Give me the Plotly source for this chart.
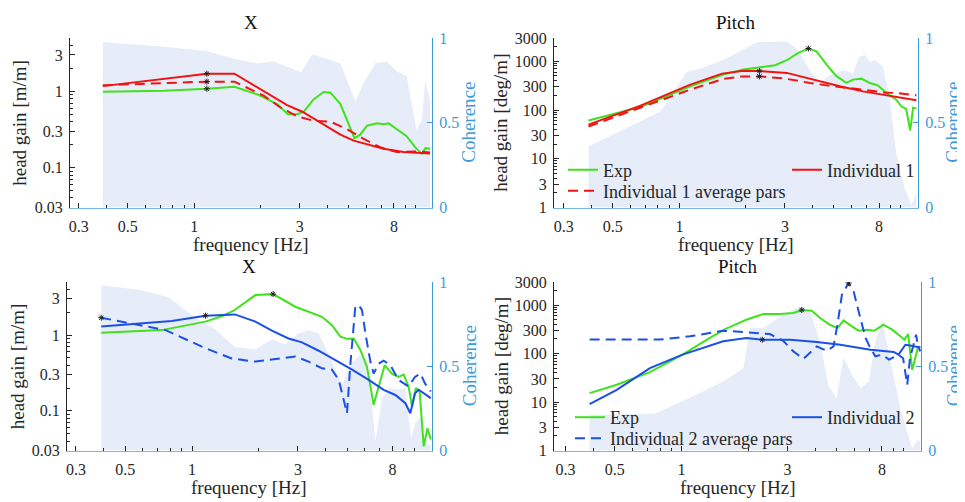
import math
import plotly.graph_objects as go

# ---------------- data (frequency in Hz) ----------------
# Top-left: X, Individual 1
tl_exp_f = [0.386, 0.733, 1.14, 1.52, 1.93, 2.37, 2.65, 2.92, 3.13, 3.47, 3.85, 4.13, 4.58, 4.9, 5.3, 5.63, 6.04, 6.70, 7.18, 7.56, 8.24, 8.83, 9.1, 10.1, 10.7, 11.1, 11.65]
tl_exp_v = [0.99, 1.02, 1.08, 1.15, 0.91, 0.68, 0.50, 0.50, 0.54, 0.79, 0.98, 0.96, 0.68, 0.43, 0.243, 0.27, 0.354, 0.38, 0.37, 0.38, 0.32, 0.277, 0.26, 0.177, 0.152, 0.18, 0.177]
tl_ind_f = [0.386, 1.14, 1.52, 2.07, 2.63, 3.08, 3.59, 4.13, 4.58, 5.26, 6.25, 7.18, 8.83, 11.65]
tl_ind_v = [1.17, 1.70, 1.70, 1.0, 0.66, 0.54, 0.41, 0.32, 0.27, 0.226, 0.198, 0.177, 0.16, 0.153]
tl_avg_f = [0.386, 1.14, 1.52, 2.07, 2.46, 2.92, 3.47, 4.13, 4.9, 5.83, 6.93, 8.24, 10.1, 11.65]
tl_avg_v = [1.2, 1.34, 1.34, 0.87, 0.61, 0.47, 0.41, 0.40, 0.32, 0.238, 0.185, 0.16, 0.163, 0.158]
tl_coh_f = [0.386, 0.733, 1.148, 1.514, 1.93, 2.29, 2.59, 3.04, 3.41, 3.85, 4.58, 5.35, 5.83, 6.58, 7.43, 8.24, 9.14, 10.1, 10.7, 11.06, 11.65]
tl_coh_v = [0.977, 0.948, 0.922, 0.877, 0.849, 0.863, 0.833, 0.798, 0.902, 0.883, 0.849, 0.626, 0.735, 0.853, 0.861, 0.804, 0.774, 0.459, 0.518, 0.745, 0.636]
tl_mark_f = [1.14, 1.14, 1.14]
tl_mark_v = [1.70, 1.34, 1.08]

# Top-right: Pitch, Individual 1
tr_exp_f = [0.388, 0.667, 1.12, 1.58, 1.95, 2.40, 2.71, 3.06, 3.45, 3.83, 4.17, 4.63, 5.13, 5.69, 6.1, 6.65, 7.26, 7.9, 8.62, 9.56, 10.07, 10.6, 11.06, 11.4, 11.8]
tr_exp_v = [61, 115, 306, 532, 675, 753, 828, 1050, 1490, 1825, 1600, 855, 494, 359, 420, 440, 359, 321, 224, 163, 119, 105, 38, 112, 108]
tr_ind_f = [0.388, 0.667, 1.12, 1.56, 1.95, 2.30, 3.06, 3.89, 5.31, 6.76, 8.92, 11.8]
tr_ind_v = [50, 123, 331, 558, 635, 630, 577, 434, 306, 241, 197, 158]
tr_avg_f = [0.388, 0.667, 1.12, 1.58, 1.91, 2.30, 2.95, 3.89, 4.95, 6.76, 8.32, 9.56, 11.8]
tr_avg_v = [46, 110, 262, 434, 484, 490, 447, 359, 306, 262, 230, 223, 200]
tr_coh_f = [0.388, 0.82, 1.08, 1.24, 1.51, 1.81, 2.24, 3.06, 3.38, 3.89, 4.31, 4.78, 5.5, 6.1, 6.5, 6.9, 7.26, 7.7, 8.32, 8.92, 9.56, 10.4, 11.2, 11.8]
tr_coh_v = [0.36, 0.567, 0.80, 0.82, 0.86, 0.91, 0.975, 0.98, 0.94, 0.81, 0.735, 0.78, 0.81, 0.79, 0.89, 0.90, 0.86, 0.87, 0.83, 0.655, 0.32, 0.12, 0.015, 0.084]
tr_mark_f = [2.30, 2.30, 3.83]
tr_mark_v = [630, 490, 1825]

# Bottom-left: X, Individual 2
bl_exp_f = [0.39, 0.73, 1.15, 1.37, 1.54, 1.93, 2.32, 2.92, 3.85, 4.27, 4.66, 4.99, 5.35, 5.73, 6.14, 6.58, 6.93, 7.38, 7.95, 8.51, 8.98, 9.45, 9.8, 10.2, 10.6, 11.06, 11.5, 11.9]
bl_exp_v = [1.07, 1.16, 1.50, 1.78, 2.09, 3.36, 3.46, 2.36, 1.74, 1.35, 0.95, 0.89, 0.90, 0.635, 0.38, 0.12, 0.21, 0.40, 0.31, 0.28, 0.30, 0.21, 0.114, 0.2, 0.18, 0.034, 0.059, 0.042]
bl_ind_f = [0.39, 0.81, 1.15, 1.56, 1.93, 2.29, 2.72, 3.13, 3.72, 4.42, 5.26, 6.25, 7.3, 8.24, 9.14, 9.62, 10.1, 10.5, 11.9]
bl_ind_v = [1.29, 1.53, 1.80, 1.87, 1.50, 1.14, 0.90, 0.80, 0.62, 0.47, 0.35, 0.256, 0.189, 0.162, 0.126, 0.093, 0.17, 0.19, 0.147]
bl_avg_f = [0.39, 0.575, 0.76, 1.15, 1.51, 1.93, 2.37, 2.92, 3.35, 3.85, 4.27, 4.58, 4.82, 4.99, 5.17, 5.44, 5.63, 5.83, 6.04, 6.36, 6.58, 6.93, 7.3, 7.82, 8.51, 9.45, 10.1, 10.7, 11.2, 11.9]
bl_avg_v = [1.69, 1.35, 1.16, 0.67, 0.49, 0.446, 0.48, 0.52, 0.446, 0.364, 0.35, 0.256, 0.14, 0.093, 0.42, 2.36, 2.48, 2.13, 1.05, 0.446, 0.31, 0.42, 0.46, 0.40, 0.256, 0.21, 0.28, 0.31, 0.23, 0.18]
bl_coh_f = [0.39, 0.575, 0.785, 1.03, 1.27, 1.56, 1.93, 2.29, 2.63, 3.0, 3.35, 3.72, 4.13, 4.74, 5.26, 5.73, 6.25, 6.7, 7.18, 7.82, 8.51, 9.14, 9.7, 10.1, 10.7, 11.06, 11.9]
bl_coh_v = [0.98, 0.954, 0.91, 0.79, 0.72, 0.614, 0.6, 0.66, 0.63, 0.694, 0.714, 0.694, 0.57, 0.39, 0.52, 0.57, 0.47, 0.05, 0.31, 0.37, 0.36, 0.37, 0.07, 0.16, 0.2, 0.05, 0.03]
bl_mark_f = [0.39, 1.15, 2.32]
bl_mark_v = [1.69, 1.80, 3.46]

# Bottom-right: Pitch, Individual 2
br_exp_f = [0.385, 0.51, 0.72, 1.01, 1.34, 1.59, 1.96, 2.33, 2.78, 3.19, 3.48, 3.86, 4.21, 4.64, 5.04, 5.37, 5.86, 6.27, 6.85, 7.4, 8.13, 8.89, 9.69, 10.1, 10.5, 10.95, 11.6, 11.9]
br_exp_v = [15.3, 22.7, 41.5, 95, 210, 326, 500, 656, 656, 688, 793, 769, 542, 395, 337, 485, 365, 297, 311, 297, 395, 311, 227, 193, 253, 46, 130, 141]
br_ind_f = [0.385, 0.51, 0.72, 1.01, 1.54, 1.96, 2.31, 3.08, 4.07, 5.19, 7.09, 9.04, 9.5, 10.2, 10.7, 11.9]
br_ind_v = [9.1, 17.9, 50, 95, 179, 210, 193, 193, 173, 152, 120, 108, 95, 152, 147, 134]
br_avg_f = [0.385, 0.8, 1.09, 1.54, 1.90, 2.5, 2.87, 3.19, 3.54, 4.07, 4.52, 4.84, 5.04, 5.28, 5.66, 5.96, 6.39, 6.75, 7.09, 7.47, 8.01, 8.6, 9.5, 9.96, 10.4, 10.7, 11.4, 11.6, 11.9]
br_avg_v = [195, 195, 227, 297, 278, 253, 184, 111, 78, 141, 114, 141, 395, 1645, 2865, 1928, 542, 210, 130, 88, 95, 75, 95, 80, 22.7, 80, 245, 152, 111]
br_coh_f = [0.385, 0.76, 1.12, 1.54, 1.90, 2.03, 2.33, 2.87, 3.41, 3.79, 4.21, 4.58, 4.99, 5.37, 5.86, 6.43, 6.97, 7.47, 8.01, 8.71, 9.69, 10.4, 10.95, 11.6, 11.9]
br_coh_v = [0.21, 0.22, 0.32, 0.41, 0.49, 0.727, 0.727, 0.806, 0.855, 0.826, 0.647, 0.39, 0.31, 0.55, 0.45, 0.37, 0.41, 0.647, 0.776, 0.55, 0.25, 0.11, 0.014, 0.063, 0.05]
br_mark_f = [2.31, 3.48, 5.66]
br_mark_v = [193, 793, 2865]

freq_ticks = [0.3, 0.5, 1, 3, 8]
freq_minor = [0.4, 0.6, 0.7, 0.8, 0.9, 2, 4, 5, 6, 7, 9, 10]
x_gain_ticks = [0.03, 0.1, 0.3, 1, 3]
x_gain_minor = [0.04, 0.05, 0.06, 0.07, 0.08, 0.09, 0.2, 0.4, 0.5, 0.6, 0.7, 0.8, 0.9, 2, 4]
pitch_ticks = [1, 3, 10, 30, 100, 300, 1000, 3000]
pitch_minor = [2, 4, 5, 6, 7, 8, 9, 20, 40, 50, 60, 70, 80, 90, 200, 400, 500, 600, 700, 800, 900, 2000]
coh_ticks = [0, 0.5, 1]

# ---------------- style ----------------
OFF = 8                      # page body margin of the browser
W, H = 965 - OFF, 502 - OFF  # figure fills the rest of the window
FONT = "Liberation Serif, 'Times New Roman', Times, serif"
GREEN = "#3fe21c"
RED = "#f21212"
BLUE = "#1c4fe8"
FILL = "#e6edf8"
AXB = "#3d9ad8"
TXT = "#262626"


def fmt(v):
    return ("%g" % v)


def px(x):
    return (x - OFF) / W


def py(y):
    return 1 - (y - OFF) / H


panels = [
    dict(xdom=(70, 432), ydom=(38, 207.5), xr=(-0.562, 1.075), gain="x",
         exp=(tl_exp_f, tl_exp_v), ind=(tl_ind_f, tl_ind_v), avg=(tl_avg_f, tl_avg_v),
         coh=(tl_coh_f, tl_coh_v), mark=(tl_mark_f, tl_mark_v), col=RED, leg=None),
    dict(xdom=(554, 918), ydom=(38, 207.5), xr=(-0.567, 1.079), gain="p",
         exp=(tr_exp_f, tr_exp_v), ind=(tr_ind_f, tr_ind_v), avg=(tr_avg_f, tr_avg_v),
         coh=(tr_coh_f, tr_coh_v), mark=(tr_mark_f, tr_mark_v), col=RED,
         leg=("Individual 1", (563, 170), (787, 170), (563, 191))),
    dict(xdom=(67, 432), ydom=(282, 450.5), xr=(-0.563, 1.081), gain="x",
         exp=(bl_exp_f, bl_exp_v), ind=(bl_ind_f, bl_ind_v), avg=(bl_avg_f, bl_avg_v),
         coh=(bl_coh_f, bl_coh_v), mark=(bl_mark_f, bl_mark_v), col=BLUE, leg=None),
    dict(xdom=(554, 921), ydom=(282, 450.5), xr=(-0.575, 1.079), gain="p",
         exp=(br_exp_f, br_exp_v), ind=(br_ind_f, br_ind_v), avg=(br_avg_f, br_avg_v),
         coh=(br_coh_f, br_coh_v), mark=(br_mark_f, br_mark_v), col=BLUE,
         leg=("Individual 2", (570, 417.5), (787, 417.5), (570, 438.5))),
]

fig = go.Figure()
layout = {}
legend_n = 0
annotations = []

for i, p in enumerate(panels, start=1):
    xid = "x" if i == 1 else f"x{i}"
    xkey = "xaxis" if i == 1 else f"xaxis{i}"
    cn = 2 * i - 1
    gn = 2 * i
    cid = "y" if cn == 1 else f"y{cn}"
    ckey = "yaxis" if cn == 1 else f"yaxis{cn}"
    gid = f"y{gn}"
    gkey = f"yaxis{gn}"

    # coherence shading (base axis, drawn below)
    fig.add_trace(go.Scatter(x=p["coh"][0], y=p["coh"][1], xaxis=xid, yaxis=cid,
                             mode="lines", line=dict(width=0), fill="tozeroy",
                             fillcolor=FILL, showlegend=False, hoverinfo="skip"))

    leg = p["leg"]
    if leg:
        l1 = f"legend{legend_n + 1}" if legend_n > 0 else "legend"
        l2 = f"legend{legend_n + 2}"
        l3 = f"legend{legend_n + 3}"
        legend_n += 3
    fig.add_trace(go.Scatter(x=p["exp"][0], y=p["exp"][1], xaxis=xid, yaxis=gid,
                             mode="lines", line=dict(color=GREEN, width=2),
                             name="Exp", showlegend=bool(leg),
                             legend=l1 if leg else None))
    fig.add_trace(go.Scatter(x=p["ind"][0], y=p["ind"][1], xaxis=xid, yaxis=gid,
                             mode="lines", line=dict(color=p["col"], width=2),
                             name=leg[0] if leg else "", showlegend=bool(leg),
                             legend=l2 if leg else None))
    fig.add_trace(go.Scatter(x=p["avg"][0], y=p["avg"][1], xaxis=xid, yaxis=gid,
                             mode="lines", line=dict(color=p["col"], width=2, dash="10px,6px"),
                             name=(leg[0] + " average pars") if leg else "",
                             showlegend=bool(leg), legend=l3 if leg else None))
    fig.add_trace(go.Scatter(x=p["mark"][0], y=p["mark"][1], xaxis=xid, yaxis=gid,
                             mode="markers",
                             marker=dict(symbol="asterisk-open", size=5, color="#222222",
                                         line=dict(color="#222222", width=1)),
                             showlegend=False, hoverinfo="skip"))

    if leg:
        for lk, pos in zip([l1, l2, l3], leg[1:]):
            layout[lk] = dict(x=px(pos[0]), y=py(pos[1]), xref="paper", yref="paper",
                              xanchor="left", yanchor="middle", bgcolor="rgba(0,0,0,0)",
                              borderwidth=0, font=dict(family=FONT, size=18, color=TXT),
                              itemwidth=30, tracegroupgap=0)

    xd = (px(p["xdom"][0]), px(p["xdom"][1]))
    yd = (py(p["ydom"][1]), py(p["ydom"][0]))

    layout[xkey] = dict(domain=list(xd), anchor=cid, type="log", range=list(p["xr"]),
                        automargin=False,
                        tickmode="array", tickvals=freq_ticks,
                        ticktext=[fmt(v) for v in freq_ticks],
                        ticks="inside", ticklen=5, tickcolor=TXT, tickwidth=1,
                        minor=dict(tickmode="array", tickvals=freq_minor, ticks="inside",
                                   ticklen=3, tickcolor=TXT, showgrid=False),
                        showline=True, linecolor="#7ab6e2", linewidth=1,
                        showgrid=False, zeroline=False, ticklabelstandoff=4,
                        tickfont=dict(family=FONT, size=16, color=TXT))
    layout[ckey] = dict(domain=list(yd), anchor=xid, side="right", range=[0, 1],
                        automargin=False,
                        tickmode="array", tickvals=coh_ticks,
                        ticktext=[fmt(v) for v in coh_ticks],
                        ticks="inside", ticklen=5, tickcolor=AXB,
                        showline=True, linecolor=AXB, linewidth=1,
                        showgrid=False, zeroline=False, ticklabelstandoff=3,
                        tickfont=dict(family=FONT, size=16, color=AXB))
    if p["gain"] == "x":
        gt, gm = x_gain_ticks, x_gain_minor
        gr = [math.log10(0.03), math.log10(5)]
    else:
        gt, gm = pitch_ticks, pitch_minor
        gr = [0, math.log10(3000)]
    layout[gkey] = dict(overlaying=cid, anchor=xid, side="left", type="log", range=gr,
                        automargin=False,
                        tickmode="array", tickvals=gt, ticktext=[fmt(v) for v in gt],
                        ticks="inside", ticklen=5, tickcolor=TXT,
                        minor=dict(tickmode="array", tickvals=gm, ticks="inside",
                                   ticklen=3, tickcolor=TXT, showgrid=False),
                        showline=True, linecolor=TXT, linewidth=1,
                        showgrid=False, zeroline=False, ticklabelstandoff=3,
                        tickfont=dict(family=FONT, size=16, color=TXT))

    cx = (p["xdom"][0] + p["xdom"][1]) / 2
    top = p["ydom"][0]
    bot = p["ydom"][1]
    cy = (top + bot) / 2
    title = "X" if p["gain"] == "x" else "Pitch"
    ylab = "head gain [m/m]" if p["gain"] == "x" else "head gain [deg/m]"
    annotations.append(dict(text=title, x=px(cx), y=py(top - 16), xref="paper", yref="paper",
                            showarrow=False, font=dict(family=FONT, size=19, color="#111111"),
                            xanchor="center", yanchor="middle"))
    annotations.append(dict(text="frequency [Hz]", x=px(cx), y=py(bot + 37), xref="paper",
                            yref="paper", showarrow=False,
                            font=dict(family=FONT, size=19, color=TXT),
                            xanchor="center", yanchor="middle"))
    annotations.append(dict(text=ylab, x=px(p["xdom"][0] - 50 if p["gain"] == "x" else p["xdom"][0] - 53),
                            y=py(cy), xref="paper", yref="paper", showarrow=False, textangle=-90,
                            font=dict(family=FONT, size=19, color=TXT),
                            xanchor="center", yanchor="middle"))
    annotations.append(dict(text="Coherence", x=px(min(p["xdom"][1] + 37, 953)), y=py(cy),
                            xref="paper", yref="paper", showarrow=False, textangle=-90,
                            font=dict(family=FONT, size=19, color=AXB),
                            xanchor="center", yanchor="middle"))

layout.update(dict(width=W, height=H, margin=dict(l=0, r=0, t=0, b=0, autoexpand=False),
                   paper_bgcolor="white", plot_bgcolor="white",
                   showlegend=True, annotations=annotations,
                   font=dict(family=FONT, color=TXT)))
fig.update_layout(**layout)
fig.write_html("out.html")
